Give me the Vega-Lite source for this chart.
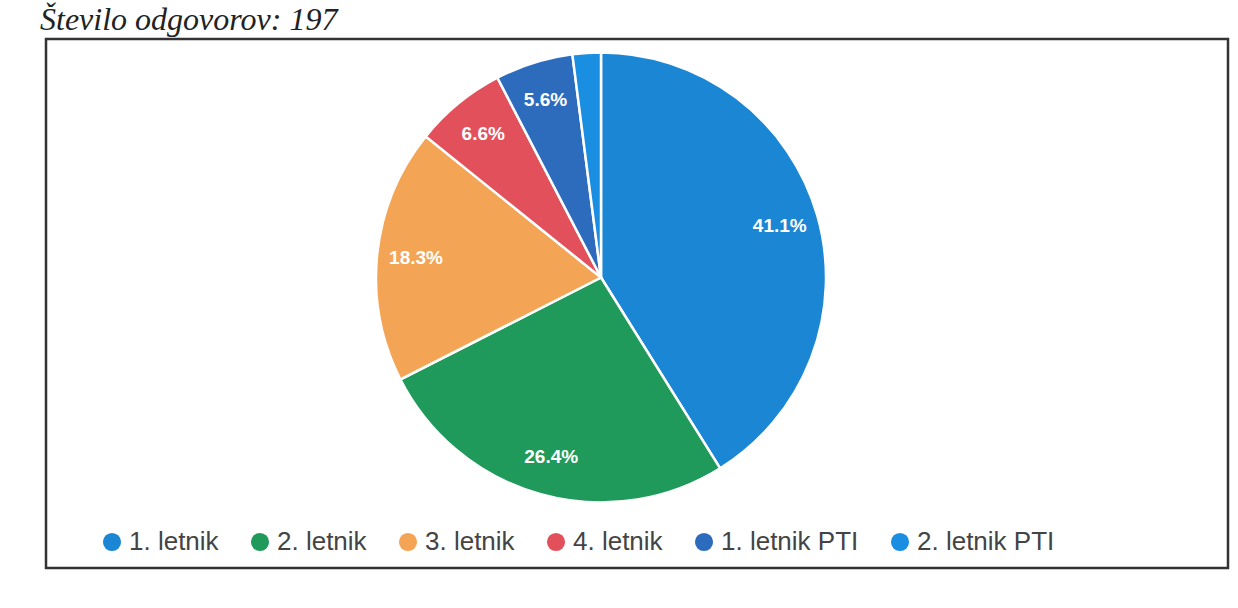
{
  "$schema": "https://vega.github.io/schema/vega-lite/v6.json",
  "width": 1238,
  "height": 608,
  "autosize": {"type": "fit", "contains": "padding"},
  "padding": {"left": 40, "top": 4, "right": 10, "bottom": 40},
  "background": "white",
  "view": {"stroke": "#333333", "strokeWidth": 2.5, "fill": null},
  "title": {
    "text": "Število odgovorov: 197",
    "anchor": "start",
    "font": "Liberation Serif",
    "fontStyle": "italic",
    "fontWeight": "normal",
    "fontSize": 32,
    "color": "#222222",
    "offset": 2,
    "dx": -6
  },
  "data": {
    "values": [
      {"idx": 1, "letnik": "1. letnik", "count": 81, "label": "41.1%"},
      {"idx": 2, "letnik": "2. letnik", "count": 52, "label": "26.4%"},
      {"idx": 3, "letnik": "3. letnik", "count": 36, "label": "18.3%"},
      {"idx": 4, "letnik": "4. letnik", "count": 13, "label": "6.6%"},
      {"idx": 5, "letnik": "1. letnik PTI", "count": 11, "label": "5.6%"},
      {"idx": 6, "letnik": "2. letnik PTI", "count": 4, "label": ""}
    ]
  },
  "encoding": {
    "theta": {"field": "count", "type": "quantitative", "stack": true},
    "order": {"field": "idx", "type": "quantitative"}
  },
  "layer": [
    {
      "mark": {"type": "arc", "radius": 225, "stroke": "white", "strokeWidth": 2.5, "xOffset": -36, "yOffset": -26},
      "encoding": {
        "color": {
          "field": "letnik",
          "type": "nominal",
          "scale": {
            "domain": ["1. letnik", "2. letnik", "3. letnik", "4. letnik", "1. letnik PTI", "2. letnik PTI"],
            "range": ["#1b86d4", "#1f9a5b", "#f4a455", "#e2505c", "#2d6cbd", "#1a8ee0"]
          },
          "legend": {
            "title": null,
            "orient": "none",
            "legendX": 53,
            "legendY": 490,
            "direction": "horizontal",
            "columns": 6,
            "symbolType": "circle",
            "symbolSize": 330,
            "symbolStrokeWidth": 0,
            "labelFont": "Liberation Sans",
            "labelFontSize": 26,
            "labelColor": "#444444",
            "labelLimit": 300,
            "columnPadding": 28,
            "symbolOffset": 0,
            "labelOffset": 4
          }
        }
      }
    },
    {
      "mark": {"type": "text", "radius": 186, "fill": "white", "font": "Liberation Sans", "fontWeight": "bold", "fontSize": 19, "xOffset": -36, "yOffset": -26},
      "encoding": {
        "text": {"field": "label", "type": "nominal"}
      }
    }
  ]
}
